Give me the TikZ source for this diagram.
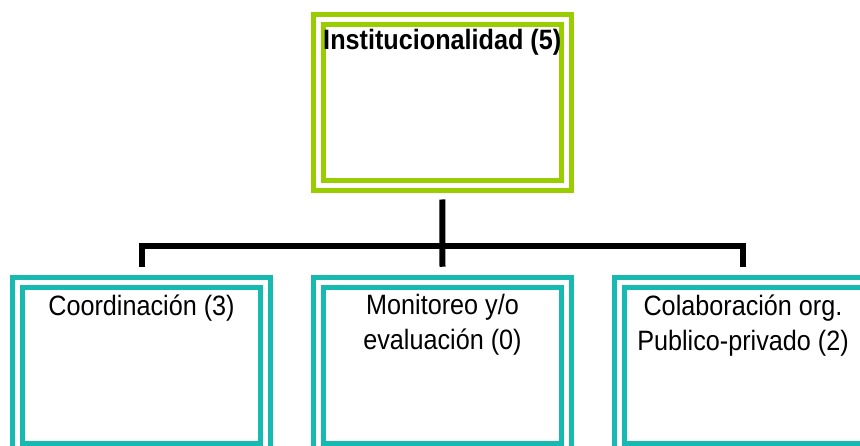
\documentclass[tikz,border=0pt]{standalone}
\usepackage{fontspec}
\setmainfont[FakeStretch=0.9]{Liberation Sans}
\usepackage{tikz}
\usetikzlibrary{positioning}
\definecolor{verde}{RGB}{154,205,0}
\definecolor{turquesa}{RGB}{22,186,176}

\begin{document}
\begin{tikzpicture}[x=1pt,y=-1pt,
    caja/.style={draw=#1,line width=5pt,double=white,double distance=5pt,
        minimum width=248pt,minimum height=166pt,inner sep=0pt},
    texto/.style={inner sep=0pt,align=center,font=\fontsize{28}{35}\selectfont},
    enlace/.style={line width=6pt,black,line join=miter}]

    % Zona visible
    \clip (0,0) rectangle (860,446);

    % Caja superior
    \node[caja=verde] (inst) at (442.25,102.5) {};
    \node[texto,font=\fontsize{28}{35}\selectfont\bfseries,below=12pt of inst.north] (instT) {Institucionalidad (5)};

    % Cajas inferiores
    \node[caja=turquesa] (coord) at (141.5,365.25) {};
    \node[caja=turquesa] (moni) at (442.5,365.25) {};
    \node[caja=turquesa] (colab) at (743,365.25) {};
    \node[texto,below=14.5pt of coord.north] (coordT) {Coordinación (3)};
    \node[texto,below=14.5pt of moni.north] (moniT) {Monitoreo y/o\\evaluación (0)};
    \node[texto,below=14.5pt of colab.north] (colabT) {Colaboración org.\\Publico-privado (2)};

    % Conectores
    \coordinate (barra) at (443,246);
    \draw[enlace] ([yshift=-11.5pt]inst.south) -- ([yshift=13pt]moni.north);
    \draw[enlace] ([yshift=13pt]coord.north) |- (barra) -| ([yshift=13pt]colab.north);
\end{tikzpicture}
\end{document}
